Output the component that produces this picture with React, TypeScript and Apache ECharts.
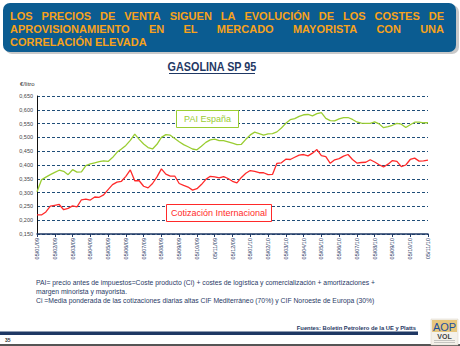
import React, { useEffect, useRef } from "react";
import * as echarts from "echarts";

const monthLabels = [
  "05/01/09", "05/02/09", "05/03/09", "05/04/09", "05/05/09", "05/06/09",
  "05/07/09", "05/08/09", "05/09/09", "05/10/09", "05/11/09", "05/12/09",
  "05/01/10", "05/02/10", "05/03/10", "05/04/10", "05/05/10", "05/06/10",
  "05/07/10", "05/08/10", "05/09/10", "05/10/10", "05/11/10",
];
const weekDays = ["05", "12", "19", "26"];

const paiEspana = [
  0.303, 0.346, 0.356, 0.365, 0.373, 0.381, 0.377, 0.365, 0.383, 0.374,
  0.375, 0.398, 0.404, 0.408, 0.412, 0.415, 0.413, 0.427, 0.446, 0.458,
  0.471, 0.489, 0.512, 0.493, 0.476, 0.463, 0.458, 0.475, 0.500, 0.510,
  0.508, 0.496, 0.484, 0.474, 0.466, 0.458, 0.455, 0.468, 0.482, 0.491,
  0.494, 0.488, 0.488, 0.484, 0.479, 0.474, 0.475, 0.493, 0.509, 0.519,
  0.514, 0.508, 0.513, 0.514, 0.520, 0.534, 0.551, 0.564, 0.568, 0.576,
  0.582, 0.583, 0.578, 0.586, 0.590, 0.569, 0.561, 0.560, 0.567, 0.572,
  0.572, 0.565, 0.556, 0.552, 0.551, 0.551, 0.556, 0.549, 0.535, 0.539,
  0.544, 0.551, 0.548, 0.536, 0.546, 0.555, 0.555, 0.553, 0.553,
];

const cotizacionInternacional = [
  0.219, 0.219, 0.230, 0.251, 0.254, 0.257, 0.238, 0.243, 0.252, 0.248,
  0.274, 0.276, 0.273, 0.284, 0.283, 0.292, 0.311, 0.329, 0.338, 0.341,
  0.359, 0.382, 0.343, 0.343, 0.323, 0.317, 0.333, 0.357, 0.386, 0.367,
  0.360, 0.360, 0.333, 0.326, 0.320, 0.309, 0.314, 0.329, 0.348, 0.359,
  0.357, 0.353, 0.358, 0.351, 0.341, 0.335, 0.355, 0.370, 0.380, 0.377,
  0.372, 0.372, 0.365, 0.366, 0.406, 0.408, 0.421, 0.420, 0.428, 0.436,
  0.438, 0.433, 0.443, 0.456, 0.434, 0.430, 0.406, 0.419, 0.423, 0.432,
  0.438, 0.420, 0.407, 0.409, 0.410, 0.419, 0.411, 0.401, 0.393, 0.403,
  0.416, 0.413, 0.394, 0.400, 0.420, 0.425, 0.414, 0.415, 0.418,
];

const headingLines = [
  "LOS PRECIOS DE VENTA SIGUEN LA EVOLUCIÓN DE LOS COSTES DE",
  "APROVISIONAMIENTO EN EL MERCADO MAYORISTA CON UNA",
  "CORRELACIÓN ELEVADA",
];
const footnoteLines = [
  "PAI= precio antes de impuestos=Coste producto (Ci) + costes de logística y comercialización + amortizaciones +",
  "margen minorista y mayorista.",
  "Ci =Media ponderada de las cotizaciones diarias altas CIF Mediterráneo (70%) y CIF Noroeste de Europa (30%)",
];

const FONT = '"Liberation Sans", Arial, sans-serif';
const GREEN = "#9acd32";
const RED = "#ff2a2a";
const NAVY = "#1f3864";

function buildCategories(): string[] {
  const cats: string[] = [];
  monthLabels.forEach((lab, k) => {
    const weeks = k === monthLabels.length - 1 ? 1 : 4;
    for (let w = 0; w < weeks; w++) cats.push(weekDays[w] + lab.slice(2));
  });
  return cats;
}

function textEl(text: string, x: number, y: number, font: string, fill: string, align = "left", vAlign = "middle", z = 1) {
  return {
    type: "text",
    x,
    y,
    z,
    silent: true,
    style: { text, font, fill, align, verticalAlign: vAlign, textAlign: align, textVerticalAlign: vAlign },
  };
}

function justifiedLine(line: string, x0: number, x1: number, y: number, font: string, fill: string) {
  const words = line.split(" ");
  const ctx = document.createElement("canvas").getContext("2d")!;
  ctx.font = font;
  const widths = words.map((w) => ctx.measureText(w).width);
  const total = widths.reduce((a, b) => a + b, 0);
  const gap = (x1 - x0 - total) / Math.max(1, words.length - 1);
  let x = x0;
  return words.map((w, i) => {
    const el = textEl(w, x, y, font, fill);
    x += widths[i] + gap;
    return el;
  });
}

export default function App() {
  const ref = useRef<HTMLDivElement>(null);
  useEffect(() => {
    document.body.style.margin = "0";
    const chart = echarts.init(ref.current!, null, { renderer: "svg" });
    const categories = buildCategories();
    const headFont = `bold 11px ${FONT}`;
    const headColor = "#f7a21b";

    const graphic: any[] = [
      { type: "rect", shape: { x: 5, y: 5, width: 454, height: 49, r: 7 }, style: { fill: "#c9c9c9" }, silent: true },
      { type: "rect", shape: { x: 3, y: 3, width: 453, height: 49, r: 7 }, style: { fill: "#0b5c91" }, silent: true },
      ...justifiedLine(headingLines[0], 10, 444, 15.5, headFont, headColor),
      ...justifiedLine(headingLines[1], 10, 444, 28.5, headFont, headColor),
      textEl(headingLines[2], 10, 42, headFont, headColor),
      {
        type: "text", x: 212, y: 67, scaleX: 0.9, silent: true,
        style: { text: "GASOLINA SP 95", font: `bold 12px ${FONT}`, fill: NAVY, align: "center", verticalAlign: "middle", textAlign: "center", textVerticalAlign: "middle" },
      },
      { type: "line", shape: { x1: 169, y1: 73.5, x2: 255, y2: 73.5 }, style: { stroke: NAVY, lineWidth: 1.2 }, silent: true },
      textEl("€/litro", 20, 84, `6px ${FONT}`, "#333"),
      { type: "rect", z: 20, shape: { x: 176.5, y: 110.5, width: 62, height: 17 }, style: { fill: "#fff", stroke: GREEN, lineWidth: 1 }, silent: true },
      textEl("PAI España", 207.5, 119, `9px ${FONT}`, GREEN, "center", "middle", 21),
      { type: "rect", z: 20, shape: { x: 166.5, y: 204.5, width: 105, height: 17 }, style: { fill: "#fff", stroke: RED, lineWidth: 1 }, silent: true },
      textEl("Cotización Internacional", 219, 213, `9px ${FONT}`, RED, "center", "middle", 21),
      textEl(footnoteLines[0], 36, 282, `6.8px ${FONT}`, "#2a3a66"),
      textEl(footnoteLines[1], 36, 291, `6.8px ${FONT}`, "#2a3a66"),
      textEl(footnoteLines[2], 36, 300, `6.8px ${FONT}`, "#2a3a66"),
      textEl("Fuentes: Boletín Petrolero de la UE y Platts", 416, 328, `bold 5.8px ${FONT}`, NAVY, "right"),
      { type: "rect", shape: { x: 0, y: 331.5, width: 418, height: 3.5 }, style: { fill: NAVY }, silent: true },
      { type: "rect", shape: { x: 0, y: 344, width: 460, height: 2 }, style: { fill: "#555" }, silent: true },
      textEl("35", 5, 340, `bold 5px ${FONT}`, "#333"),
      { type: "rect", shape: { x: 431, y: 319, width: 27, height: 26 }, style: { fill: "#f4f1ea", stroke: "#d8d2c2", lineWidth: 0.5 }, silent: true },
      { type: "rect", shape: { x: 432, y: 320, width: 25, height: 12 }, style: { fill: "#e6c67d" }, silent: true },
      textEl("AOP", 444.5, 326.5, `11px ${FONT}`, "#1d4f9c", "center"),
      textEl("VOL", 444.5, 336, `bold 7px ${FONT}`, "#444", "center"),
      { type: "line", shape: { x1: 434, y1: 340.5, x2: 455, y2: 340.5 }, style: { stroke: "#999", lineWidth: 0.5 }, silent: true },
      { type: "line", shape: { x1: 434, y1: 342.5, x2: 455, y2: 342.5 }, style: { stroke: "#999", lineWidth: 0.5 }, silent: true },
    ];

    chart.setOption({
      animation: false,
      backgroundColor: "#fff",
      grid: { left: 37, right: 32, top: 96, bottom: 112 },
      xAxis: {
        type: "category",
        data: categories,
        boundaryGap: false,
        axisLine: { lineStyle: { color: NAVY, width: 1.5 } },
        axisTick: { show: true, interval: 3, length: 3, lineStyle: { color: NAVY } },
        axisLabel: { interval: 3, rotate: 90, fontSize: 5.5, color: NAVY, margin: 4, fontFamily: FONT },
        splitLine: { show: false },
      },
      yAxis: {
        type: "value",
        min: 0.15,
        max: 0.65,
        interval: 0.05,
        axisLine: { show: true, lineStyle: { color: "#111", width: 1 } },
        axisTick: { show: false },
        axisLabel: {
          fontSize: 5.5, color: "#444", margin: 4, fontFamily: FONT,
          formatter: (v: number) => v.toFixed(3).replace(".", ","),
        },
        splitLine: { show: true, lineStyle: { type: [3, 2], color: "#1f4e79", width: 1 } },
      },
      series: [
        { name: "PAI España", type: "line", data: paiEspana, symbol: "none", lineStyle: { color: GREEN, width: 1.3 }, z: 3 },
        { name: "Cotización Internacional", type: "line", data: cotizacionInternacional, symbol: "none", lineStyle: { color: RED, width: 1.3 }, z: 3 },
      ],
      graphic,
    });
    return () => chart.dispose();
  }, []);
  return <div ref={ref} style={{ width: 460, height: 346 }} />;
}
